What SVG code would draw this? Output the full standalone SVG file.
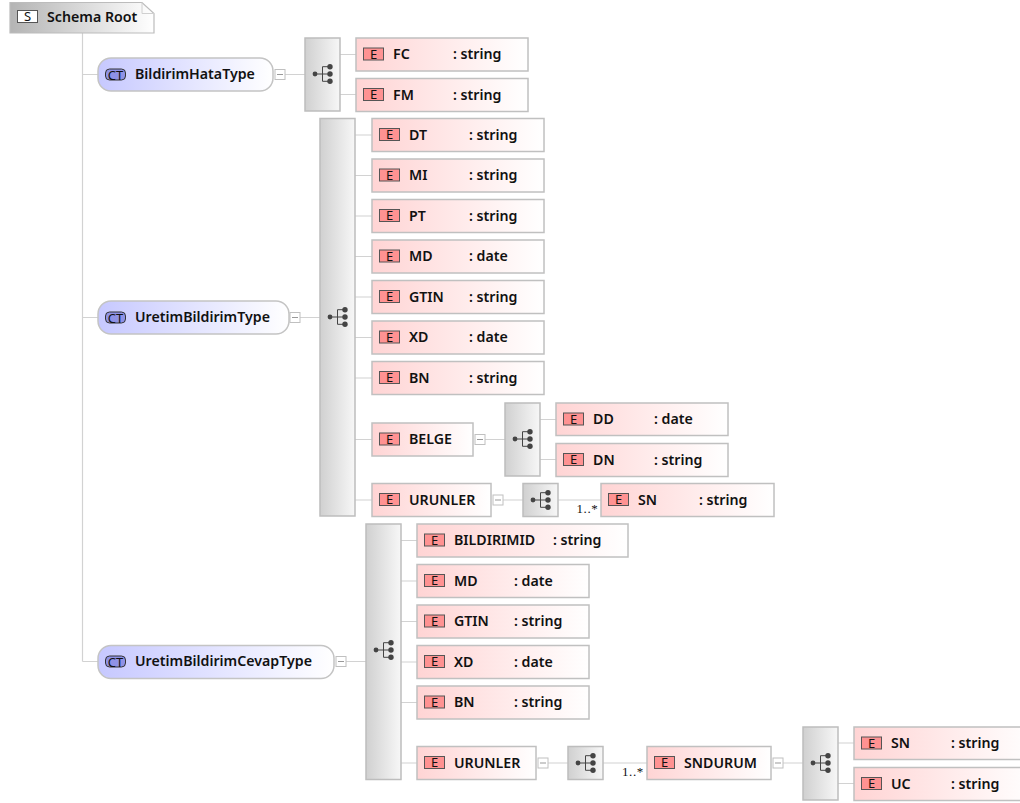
<svg xmlns="http://www.w3.org/2000/svg" xmlns:xlink="http://www.w3.org/1999/xlink" width="1020" height="803" viewBox="0 0 1020 803">
<style>
text{font-family:"Noto Sans","DejaVu Sans",sans-serif;font-size:14.2px;font-weight:600;fill:#111}
.el{fill:url(#gE);stroke:#c0c0c0;stroke-width:1.5}
.ct{fill:url(#gC);stroke:#c4c4c4;stroke-width:1.5}
.sq{fill:url(#gS);stroke:#bdbdbd;stroke-width:1.5}
.bE{fill:#ff9292;stroke:#555;stroke-width:1}
.bC{fill:#8f92e6;stroke:#333;stroke-width:1}
.bS{fill:#fff;stroke:#555;stroke-width:1}
.bt{font-size:13px;font-weight:400;text-anchor:middle}
.mul{font-size:13px;font-weight:400;letter-spacing:.6px;font-family:"Liberation Serif","DejaVu Serif",serif}
#conn path{fill:none;stroke:#d2d2d2;stroke-width:1.2}
.tg{fill:#fff;stroke:#c0c0c0;stroke-width:1}
.tm{stroke:#999;stroke-width:1}
</style>
<defs>
<linearGradient id="gE"><stop offset="0" stop-color="#ffd4d4"/><stop offset="1" stop-color="#fff"/></linearGradient>
<linearGradient id="gC"><stop offset="0" stop-color="#c6c8ff"/><stop offset="1" stop-color="#fff"/></linearGradient>
<linearGradient id="gS"><stop offset="0" stop-color="#d0d0d0"/><stop offset="1" stop-color="#f7f7f7"/></linearGradient>
<linearGradient id="gR"><stop offset="0" stop-color="#b4b4b4"/><stop offset="1" stop-color="#fff"/></linearGradient>
<g id="ic">
<path d="M-7.5 0H7.5M0 -7.300V7.300M0 -7.300H7.500M0 7.300H7.500" fill="none" stroke="#444" stroke-width="1"/>
<circle cx="-7.5" cy="0" r="2.4" fill="#444"/><circle cx="7.5" cy="-7.300" r="2.700" fill="#444"/><circle cx="7.5" cy="0" r="2.700" fill="#444"/><circle cx="7.5" cy="7.300" r="2.700" fill="#444"/>
</g>
<g id="tg"><rect class="tg" x="-5" y="-5" width="10" height="10"/><path class="tm" d="M-3 0H3"/></g>
</defs>

<g id="conn">
<path d="M82.500 33V661.500M82.500 74.500H98M82.500 317.500H98M82.500 661.500H98"/>
<path d="M285 74.500H305M340 54.500H356M340 94.500H356"/>
<path d="M300 317.500H320M355 135H372M355 175.500H372M355 216H372M355 256.500H372M355 297H372M355 337.500H372M355 378H372M355 439.500H372M355 500H372"/>
<path d="M485 439.500H505M540 419.500H556M540 459.500H556"/>
<path d="M503 500H523M558 500H601"/>
<path d="M346 661.500H366M401 540.500H417M401 581H417M401 621.500H417M401 662H417M401 702.500H417M401 763H417"/>
<path d="M548 763H568M603 763H647M783 763H803M838 743H854M838 783.500H854"/>
</g>

<g id="root">
<path d="M10 2.500H142L154 13.500V33H10Z" fill="url(#gR)" stroke="#bcbcbc" stroke-width="1.200"/>
<path d="M142 2.500V13.500H154" fill="none" stroke="#d0d0d0"/>
<rect class="bS" x="17.500" y="10.500" width="20" height="12"/><text class="bt" x="27.500" y="21">S</text>
<text x="47" y="21.500">Schema Root</text>
</g>

<g id="BildirimHataType"><rect class="ct" x="98" y="58" width="175" height="33" rx="13"/><rect class="bC" x="105.500" y="69" width="20" height="11" rx="4"/><text class="bt" x="115.500" y="79.500">CT</text><text x="135" y="79">BildirimHataType</text><use href="#tg" x="280" y="74.500"/></g>
<g id="seq1"><rect class="sq" x="305" y="38" width="35" height="73"/><use href="#ic" x="322.500" y="74"/></g>
<g id="FC"><rect class="el" x="356" y="38" width="172" height="33"/><rect class="bE" x="363.500" y="48" width="20" height="12"/><text class="bt" x="373.500" y="58.500">E</text><text x="393" y="59">FC</text><text x="453" y="59">: string</text></g>
<g id="FM"><rect class="el" x="356" y="78.500" width="172" height="33"/><rect class="bE" x="363.500" y="88.500" width="20" height="12"/><text class="bt" x="373.500" y="99">E</text><text x="393" y="99.500">FM</text><text x="453" y="99.500">: string</text></g>

<g id="UretimBildirimType"><rect class="ct" x="98" y="301" width="191" height="33" rx="13"/><rect class="bC" x="105.500" y="312" width="20" height="11" rx="4"/><text class="bt" x="115.500" y="322.500">CT</text><text x="135" y="322">UretimBildirimType</text><use href="#tg" x="295" y="317.500"/></g>
<g id="seq2"><rect class="sq" x="320" y="118.500" width="35" height="397.500"/><use href="#ic" x="337.500" y="317"/></g>
<g id="DT"><rect class="el" x="372" y="118.500" width="172" height="33"/><rect class="bE" x="379.500" y="128.500" width="20" height="12"/><text class="bt" x="389.500" y="139">E</text><text x="409" y="139.500">DT</text><text x="469" y="139.500">: string</text></g>
<g id="MI"><rect class="el" x="372" y="159" width="172" height="33"/><rect class="bE" x="379.500" y="169" width="20" height="12"/><text class="bt" x="389.500" y="179.500">E</text><text x="409" y="180">MI</text><text x="469" y="180">: string</text></g>
<g id="PT"><rect class="el" x="372" y="199.500" width="172" height="33"/><rect class="bE" x="379.500" y="209.500" width="20" height="12"/><text class="bt" x="389.500" y="220">E</text><text x="409" y="220.500">PT</text><text x="469" y="220.500">: string</text></g>
<g id="MD"><rect class="el" x="372" y="240" width="172" height="33"/><rect class="bE" x="379.500" y="250" width="20" height="12"/><text class="bt" x="389.500" y="260.500">E</text><text x="409" y="261">MD</text><text x="469" y="261">: date</text></g>
<g id="GTIN"><rect class="el" x="372" y="280.500" width="172" height="33"/><rect class="bE" x="379.500" y="290.500" width="20" height="12"/><text class="bt" x="389.500" y="301">E</text><text x="409" y="301.500">GTIN</text><text x="469" y="301.500">: string</text></g>
<g id="XD"><rect class="el" x="372" y="321" width="172" height="33"/><rect class="bE" x="379.500" y="331" width="20" height="12"/><text class="bt" x="389.500" y="341.500">E</text><text x="409" y="342">XD</text><text x="469" y="342">: date</text></g>
<g id="BN"><rect class="el" x="372" y="361.500" width="172" height="33"/><rect class="bE" x="379.500" y="371.500" width="20" height="12"/><text class="bt" x="389.500" y="382">E</text><text x="409" y="382.500">BN</text><text x="469" y="382.500">: string</text></g>
<g id="BELGE"><rect class="el" x="372" y="423" width="101" height="33"/><rect class="bE" x="379.500" y="433" width="20" height="12"/><text class="bt" x="389.500" y="443.500">E</text><text x="409" y="444">BELGE</text><use href="#tg" x="480" y="439.500"/></g>
<g id="seq3"><rect class="sq" x="505" y="403" width="35" height="73"/><use href="#ic" x="522.500" y="439"/></g>
<g id="DD"><rect class="el" x="556" y="403" width="172" height="32.500"/><rect class="bE" x="563.500" y="413" width="20" height="12"/><text class="bt" x="573.500" y="423.500">E</text><text x="593" y="424">DD</text><text x="654" y="424">: date</text></g>
<g id="DN"><rect class="el" x="556" y="443.500" width="172" height="33"/><rect class="bE" x="563.500" y="453.500" width="20" height="12"/><text class="bt" x="573.500" y="464">E</text><text x="593" y="464.500">DN</text><text x="654" y="464.500">: string</text></g>
<g id="URUNLER1"><rect class="el" x="372" y="483.500" width="119" height="33"/><rect class="bE" x="379.500" y="493.500" width="20" height="12"/><text class="bt" x="389.500" y="504">E</text><text x="409" y="504.500">URUNLER</text><use href="#tg" x="498" y="500"/></g>
<g id="seq4"><rect class="sq" x="523" y="483.500" width="35" height="33"/><use href="#ic" x="540.500" y="500"/></g>
<text class="mul" x="576.500" y="513">1..*</text>
<g id="SN1"><rect class="el" x="601" y="483.500" width="173" height="33"/><rect class="bE" x="608.500" y="493.500" width="20" height="12"/><text class="bt" x="618.500" y="504">E</text><text x="638" y="504.500">SN</text><text x="699" y="504.500">: string</text></g>

<g id="UretimBildirimCevapType"><rect class="ct" x="98" y="645.500" width="236" height="33" rx="13"/><rect class="bC" x="105.500" y="656" width="20" height="11" rx="4"/><text class="bt" x="115.500" y="666.500">CT</text><text x="135" y="666">UretimBildirimCevapType</text><use href="#tg" x="341" y="661.500"/></g>
<g id="seq5"><rect class="sq" x="366" y="524" width="35" height="255.500"/><use href="#ic" x="383.500" y="650"/></g>
<g id="BILDIRIMID"><rect class="el" x="417" y="524" width="211" height="33"/><rect class="bE" x="424.500" y="534" width="20" height="12"/><text class="bt" x="434.500" y="544.500">E</text><text x="454" y="545">BILDIRIMID</text><text x="553" y="545">: string</text></g>
<g id="MD2"><rect class="el" x="417" y="564.500" width="172" height="33"/><rect class="bE" x="424.500" y="574.500" width="20" height="12"/><text class="bt" x="434.500" y="585">E</text><text x="454" y="585.500">MD</text><text x="514" y="585.500">: date</text></g>
<g id="GTIN2"><rect class="el" x="417" y="605" width="172" height="33"/><rect class="bE" x="424.500" y="615" width="20" height="12"/><text class="bt" x="434.500" y="625.500">E</text><text x="454" y="626">GTIN</text><text x="514" y="626">: string</text></g>
<g id="XD2"><rect class="el" x="417" y="645.500" width="172" height="33"/><rect class="bE" x="424.500" y="655.500" width="20" height="12"/><text class="bt" x="434.500" y="666">E</text><text x="454" y="666.500">XD</text><text x="514" y="666.500">: date</text></g>
<g id="BN2"><rect class="el" x="417" y="686" width="172" height="33"/><rect class="bE" x="424.500" y="696" width="20" height="12"/><text class="bt" x="434.500" y="706.500">E</text><text x="454" y="707">BN</text><text x="514" y="707">: string</text></g>
<g id="URUNLER2"><rect class="el" x="417" y="746.500" width="119" height="33"/><rect class="bE" x="424.500" y="756.500" width="20" height="12"/><text class="bt" x="434.500" y="767">E</text><text x="454" y="767.500">URUNLER</text><use href="#tg" x="543" y="763"/></g>
<g id="seq6"><rect class="sq" x="568" y="746.500" width="35" height="33"/><use href="#ic" x="585.500" y="763"/></g>
<text class="mul" x="622" y="776">1..*</text>
<g id="SNDURUM"><rect class="el" x="647" y="746.500" width="124" height="33"/><rect class="bE" x="654.500" y="756.500" width="20" height="12"/><text class="bt" x="664.500" y="767">E</text><text x="684" y="767.500">SNDURUM</text><use href="#tg" x="778" y="763"/></g>
<g id="seq7"><rect class="sq" x="803" y="727" width="35" height="73"/><use href="#ic" x="820.500" y="763"/></g>
<g id="SN2"><rect class="el" x="854" y="727" width="180" height="32.500"/><rect class="bE" x="861.500" y="737" width="20" height="12"/><text class="bt" x="871.500" y="747.500">E</text><text x="891" y="748">SN</text><text x="951" y="748">: string</text></g>
<g id="UC"><rect class="el" x="854" y="767.500" width="180" height="33"/><rect class="bE" x="861.500" y="777.500" width="20" height="12"/><text class="bt" x="871.500" y="788">E</text><text x="891" y="788.500">UC</text><text x="951" y="788.500">: string</text></g>
</svg>
